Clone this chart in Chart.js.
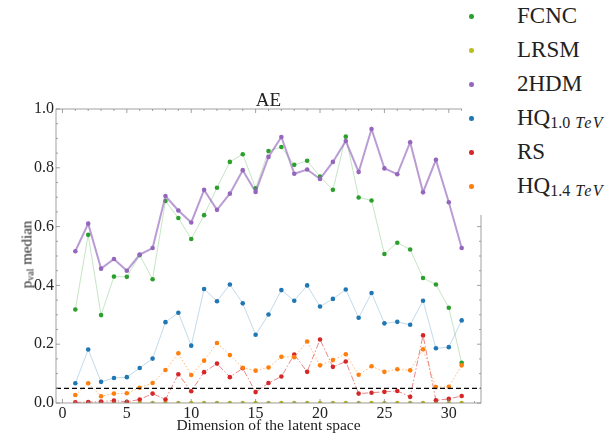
<!DOCTYPE html>
<html>
<head>
<meta charset="utf-8">
<script src="https://cdn.jsdelivr.net/npm/chart.js@4.4.0/dist/chart.umd.min.js"></script>
<style>
  body { margin: 0; background: #fff; }
  #wrap { position: relative; width: 612px; height: 433px; font-family: "Liberation Serif", serif; color: #222; }
  #c { position: absolute; left: 0; top: 0; }
  .txt { position: absolute; white-space: nowrap; }
  #title { left: 56px; width: 425px; top: 90px; text-align: center; font-size: 19px; line-height: 19px; }
  #xlabel { left: 56px; width: 425px; top: 417px; text-align: center; font-size: 15.5px; line-height: 15.5px; }
  #ylabel { left: -73px; top: 247px; width: 200px; height: 15px; text-align: center; font-size: 15px; line-height: 15px; transform: rotate(-90deg); }
  #ylabel sub { font-size: 10px; vertical-align: -2px; line-height: 0; }
  #legend { position: absolute; left: 462px; top: 0; width: 150px; height: 215px; background: #fff; }
  .row { position: absolute; left: 0; height: 34px; line-height: 34px; font-size: 23px; }
  .dot { position: absolute; left: 7px; top: 15px; width: 4.5px; height: 4.5px; border-radius: 50%; }
  .lab { position: absolute; left: 55px; top: 0; white-space: nowrap; }
  .lab sub { font-size: 16px; vertical-align: -3px; line-height: 0; }
  .lab sub i { margin-left: 5px; letter-spacing: 1.5px; }
</style>
</head>
<body>
<div id="wrap">
  <canvas id="c" width="612" height="433"></canvas>
  <div class="txt" id="title">AE</div>
  <div class="txt" id="xlabel">Dimension of the latent space</div>
  <div class="txt" id="ylabel">p<sub>val</sub> median</div>
  <div id="legend"></div>
</div>
<script>
// latent space dimensions
const dims = [1, 2, 3, 4, 5, 6, 7, 8, 9, 10, 11, 12, 13, 14, 15, 16, 17, 18, 19, 20, 21, 22, 23, 24, 25, 26, 27, 28, 29, 30, 31];

// p_val medians per signal
const fcnc = [0.318, 0.572, 0.299, 0.430, 0.429, 0.503, 0.421, 0.687, 0.629, 0.558, 0.639, 0.732, 0.820, 0.846, 0.730, 0.857,
              0.871, 0.810, 0.824, 0.770, 0.725, 0.906, 0.699, 0.689, 0.507, 0.545, 0.522, 0.425, 0.403, 0.324, 0.137];
const lrsm = [0, 0, 0, 0, 0, 0, 0, 0, 0, 0, 0, 0, 0, 0, 0, 0, 0, 0, 0, 0, 0, 0, 0, 0, 0, 0, 0, 0, 0, 0, 0];
const hdm2 = [0.516, 0.610, 0.457, 0.490, 0.450, 0.505, 0.527, 0.704, 0.655, 0.614, 0.725, 0.657, 0.712, 0.792, 0.718, 0.837,
              0.905, 0.780, 0.794, 0.762, 0.820, 0.891, 0.786, 0.932, 0.798, 0.778, 0.887, 0.717, 0.827, 0.683, 0.527];
const hq10 = [0.067, 0.182, 0.072, 0.085, 0.088, 0.119, 0.151, 0.275, 0.307, 0.195, 0.388, 0.346, 0.403, 0.339, 0.232, 0.301,
              0.384, 0.348, 0.400, 0.328, 0.354, 0.386, 0.290, 0.374, 0.271, 0.276, 0.266, 0.348, 0.186, 0.190, 0.281];
const rs   = [0.002, 0.003, 0.005, 0.008, 0.004, 0.012, 0.032, 0.012, 0.098, 0.040, 0.105, 0.134, 0.088, 0.118, 0.037, 0.068,
              0.090, 0.165, 0.106, 0.216, 0.123, 0.141, 0.032, 0.035, 0.038, 0.041, 0.021, 0.230, 0.009, 0.014, 0.024];
const hq14 = [0.027, 0.067, 0.023, 0.032, 0.033, 0.052, 0.068, 0.112, 0.169, 0.095, 0.144, 0.204, 0.163, 0.120, 0.110, 0.121,
              0.157, 0.156, 0.209, 0.128, 0.146, 0.166, 0.096, 0.125, 0.106, 0.115, 0.111, 0.183, 0.054, 0.055, 0.128];

const threshold = 0.05;

const xTicks = [0, 5, 10, 15, 20, 25, 30];
const yTicks = [0.0, 0.2, 0.4, 0.6, 0.8, 1.0];

const series = [
  { name: 'FCNC', html: 'FCNC', data: fcnc, color: '#2ca02c', line: 'rgba(44,160,44,0.35)', width: 0.8, dash: [] },
  { name: 'LRSM', html: 'LRSM', data: lrsm, color: '#bcbd22', line: 'rgba(188,189,34,0.35)', width: 0.8, dash: [] },
  { name: '2HDM', html: '2HDM', data: hdm2, color: '#9467bd', line: 'rgba(148,103,189,0.65)', width: 2, dash: [] },
  { name: 'HQ 1.0 TeV', html: 'HQ<sub>1.0<i>TeV</i></sub>', data: hq10, color: '#1f77b4', line: 'rgba(31,119,180,0.35)', width: 0.8, dash: [] },
  { name: 'RS', html: 'RS', data: rs, color: '#d62728', line: 'rgba(214,39,40,0.55)', width: 1, dash: [6, 2, 1.5, 2] },
  { name: 'HQ 1.4 TeV', html: 'HQ<sub>1.4<i>TeV</i></sub>', data: hq14, color: '#ff7f0e', line: 'rgba(255,127,14,0.55)', width: 1, dash: [1.5, 2] }
];

// legend
const legend = document.getElementById('legend');
series.forEach((s, i) => {
  const row = document.createElement('div');
  row.className = 'row';
  row.style.top = (-1 + i * 34) + 'px';
  row.innerHTML = `<span class="dot" style="background:${s.color}"></span><span class="lab">${s.html}</span>`;
  legend.appendChild(row);
});

// spines, inward ticks and the threshold line
const frame = {
  id: 'frame',
  afterDatasetsDraw(chart) {
    const { ctx, chartArea: a, scales: { x, y } } = chart;
    ctx.save();
    const ty = y.getPixelForValue(threshold);
    ctx.strokeStyle = '#000';
    ctx.lineWidth = 1.3;
    ctx.setLineDash([5, 3]);
    ctx.beginPath();
    ctx.moveTo(a.left, ty);
    ctx.lineTo(a.right, ty);
    ctx.stroke();
    ctx.setLineDash([]);

    ctx.strokeStyle = '#8a8a8a';
    ctx.lineWidth = 0.8;
    ctx.strokeRect(a.left, a.top, a.right - a.left, a.bottom - a.top);

    ctx.beginPath();
    for (let v = 0; v <= 32; v++) {
      const px = x.getPixelForValue(v);
      const len = v % 5 === 0 ? 4 : 2;
      ctx.moveTo(px, a.bottom); ctx.lineTo(px, a.bottom - len);
      ctx.moveTo(px, a.top); ctx.lineTo(px, a.top + len);
    }
    for (let k = 0; k <= 20; k++) {
      const py = y.getPixelForValue(k * 0.05);
      const len = k % 4 === 0 ? 4 : 2;
      ctx.moveTo(a.left, py); ctx.lineTo(a.left + len, py);
      ctx.moveTo(a.right, py); ctx.lineTo(a.right - len, py);
    }
    ctx.stroke();
    ctx.restore();
  }
};

const tickFont = { family: 'Liberation Serif', size: 16 };

new Chart(document.getElementById('c'), {
  type: 'line',
  data: {
    datasets: series.map((s, i) => ({
      label: s.name,
      data: dims.map((d, j) => ({ x: d, y: s.data[j] })),
      borderColor: s.line,
      borderWidth: s.width,
      borderDash: s.dash,
      pointBackgroundColor: s.color,
      pointBorderColor: s.color,
      pointBorderWidth: 0,
      pointRadius: 2.3,
      tension: 0,
      order: series.length - i
    }))
  },
  options: {
    responsive: false,
    animation: false,
    layout: { padding: { left: 0, right: 131, top: 109, bottom: 0 } },
    plugins: { legend: { display: false }, tooltip: { enabled: false } },
    scales: {
      x: {
        type: 'linear',
        min: -0.5,
        max: 32.5,
        afterBuildTicks: s => { s.ticks = xTicks.map(v => ({ value: v })); },
        afterFit: s => { s.height = 30; },
        grid: { display: false, drawTicks: false },
        border: { display: false },
        ticks: { autoSkip: false, maxRotation: 0, padding: 1, color: '#222', font: tickFont }
      },
      y: {
        min: 0,
        max: 1,
        afterBuildTicks: s => { s.ticks = yTicks.map(v => ({ value: v })); },
        afterFit: s => { s.width = 56; },
        grid: { display: false, drawTicks: false },
        border: { display: false },
        ticks: { autoSkip: false, padding: 2, color: '#222', font: tickFont, callback: v => v.toFixed(1) }
      }
    }
  },
  plugins: [frame]
});
</script>
</body>
</html>
